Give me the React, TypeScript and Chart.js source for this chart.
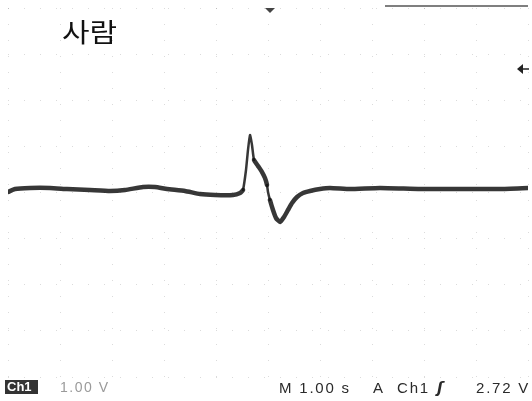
import React, { useEffect, useRef } from "react";
import { Chart, registerables } from "chart.js";

Chart.register(...registerables);

// time in seconds (1.00 s/div, 10 divisions), voltage in volts (1.00 V/div)
const timeSec = [
  0, 0.135, 0.423, 0.808, 1.135, 1.577, 1.962, 2.25, 2.596, 2.827, 3.058, 3.404,
  3.692, 3.981, 4.327, 4.462, 4.519, 4.577, 4.615, 4.654, 4.692, 4.731, 4.808,
  4.885, 4.942, 4.981, 5.0, 5.038, 5.096, 5.154, 5.231, 5.308, 5.385, 5.462,
  5.558, 5.673, 5.808, 6.0, 6.192, 6.577, 7.154, 7.923, 8.692, 9.462, 10.0,
];
const voltage = [
  0.01, 0.076, 0.098, 0.098, 0.076, 0.054, 0.033, 0.054, 0.119, 0.119, 0.076,
  0.033, -0.033, -0.054, -0.054, -0.011, 0.054, 0.488, 0.921, 1.247, 1.03, 0.705,
  0.575, 0.444, 0.314, 0.163, 0.011, -0.163, -0.379, -0.553, -0.64, -0.531,
  -0.379, -0.228, -0.098, -0.011, 0.033, 0.076, 0.098, 0.076, 0.098, 0.076,
  0.076, 0.076, 0.098,
];

const titleText = "사람";
const chLabel = "Ch1";
const voltsPerDiv = "1.00 V";
const timeBase = "M 1.00 s";
const trigMode = "A";
const trigSource = "Ch1";
const trigSlope = "\u0283";
const trigLevel = "2.72 V";

const overlayPlugin = {
  id: "scopeOverlay",
  afterDraw(chart: any) {
    const { ctx, chartArea } = chart;
    const xs = chart.scales.x;
    ctx.save();
    // title
    ctx.save();
    ctx.fillStyle = "#111";
    ctx.font = "400 26px 'Noto Sans CJK KR'";
    ctx.textBaseline = "alphabetic";
    ctx.translate(62, 42);
    ctx.scale(1.15, 1);
    ctx.fillText(titleText, 0, 0);
    ctx.restore();
    // top partial border
    ctx.strokeStyle = "#555";
    ctx.lineWidth = 1.5;
    ctx.beginPath();
    ctx.moveTo(xs.getPixelForValue(7.25), 6);
    ctx.lineTo(chartArea.right, 6);
    ctx.stroke();
    // trigger position marker
    const cx = xs.getPixelForValue(5) + 2;
    ctx.fillStyle = "#444";
    ctx.beginPath();
    ctx.moveTo(cx - 5, 8);
    ctx.lineTo(cx + 5, 8);
    ctx.lineTo(cx, 13);
    ctx.closePath();
    ctx.fill();
    // trigger level arrow
    ctx.strokeStyle = "#222";
    ctx.lineWidth = 1.5;
    ctx.beginPath();
    ctx.moveTo(519, 69);
    ctx.lineTo(529, 69);
    ctx.stroke();
    ctx.beginPath();
    ctx.moveTo(517, 69);
    ctx.lineTo(523, 64);
    ctx.lineTo(523, 74);
    ctx.closePath();
    ctx.fillStyle = "#222";
    ctx.fill();
    // Ch1 box
    ctx.fillStyle = "#333";
    ctx.fillRect(5, 380, 33, 14);
    ctx.fillStyle = "#fff";
    ctx.font = "bold 13px 'Liberation Sans'";
    ctx.textBaseline = "middle";
    ctx.fillText(chLabel, 7, 387.5);
    // volts/div
    ctx.fillStyle = "#9a9a9a";
    ctx.font = "14px 'Liberation Sans'";
    (ctx as any).letterSpacing = "1.5px";
    ctx.fillText(voltsPerDiv, 60, 388);
    // right status
    ctx.fillStyle = "#2a2a2a";
    ctx.font = "15px 'Liberation Sans'";
    (ctx as any).letterSpacing = "1.8px";
    ctx.fillText(timeBase, 279, 389);
    ctx.fillText(trigMode, 373, 389);
    ctx.fillText(trigSource, 397, 389);
    ctx.font = "italic bold 15px 'DejaVu Sans'";
    ctx.fillText(trigSlope, 437, 389);
    ctx.font = "15px 'Liberation Sans'";
    ctx.fillText(trigLevel, 476, 389);
    ctx.restore();
  },
};

export default function App() {
  const ref = useRef<HTMLCanvasElement>(null);
  useEffect(() => {
    if (!ref.current) return;
    const gridCommon = {
      color: "rgba(0,0,0,0.14)",
      lineWidth: 1,
      drawTicks: false,
    };
    const chart = new Chart(ref.current, {
      type: "line",
      data: {
        datasets: [
          {
            data: timeSec.map((t, i) => ({ x: t, y: voltage[i] })),
            borderColor: "rgba(20,20,20,0.85)",
            borderWidth: 4.5,
            borderCapStyle: "round",
            borderJoinStyle: "round",
            pointRadius: 0,
            tension: 0.15,
            fill: false,
            segment: {
              borderWidth: (c: any) => {
                const dx = Math.abs(c.p1.x - c.p0.x) || 1;
                const dy = Math.abs(c.p1.y - c.p0.y);
                return dy / dx > 3.5 ? 2.5 : 4.5;
              },
            },
          },
        ],
      },
      options: {
        animation: false,
        responsive: false,
        maintainAspectRatio: false,
        layout: { padding: { left: 8, right: 4, top: 8, bottom: 24 } },
        plugins: { legend: { display: false }, tooltip: { enabled: false }, title: { display: false } },
        scales: {
          x: {
            type: "linear",
            min: 0,
            max: 10,
            ticks: { display: false, stepSize: 1 },
            grid: gridCommon,
            border: { display: false, dash: [1, 15] },
          },
          y: {
            type: "linear",
            min: -4,
            max: 4,
            ticks: { display: false, stepSize: 1 },
            grid: gridCommon,
            border: { display: false, dash: [1, 15] },
          },
        },
      },
      plugins: [overlayPlugin],
    });
    return () => chart.destroy();
  }, []);
  return (
    <div style={{ position: "fixed", left: 0, top: 0, width: 532, height: 401, background: "#fff" }}>
      <canvas ref={ref} width={532} height={401} style={{ width: 532, height: 401, display: "block" }} />
    </div>
  );
}
